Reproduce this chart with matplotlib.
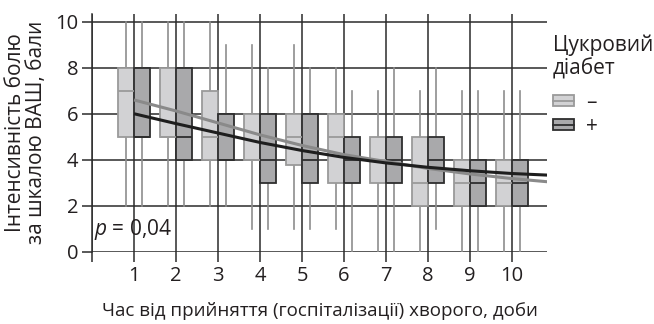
import matplotlib
matplotlib.use("Agg")
import numpy as np
import matplotlib.pyplot as plt
from matplotlib.patches import Patch
from matplotlib.lines import Line2D

plt.rcParams['font.family'] = ['Open Sans', 'DejaVu Sans']
plt.rcParams['mathtext.fontset'] = 'custom'
plt.rcParams['mathtext.it'] = 'Open Sans:italic'
plt.rcParams['mathtext.rm'] = 'Open Sans'

# days after admission
days = np.arange(1, 11)

# diabetes "–" group (box stats)
minus_lo = [2, 2, 2, 1, 1, 1, 0, 0, 0, 0]
minus_q1 = [5, 5, 4, 4, 3.75, 3, 3, 2, 2, 2]
minus_med = [7, 5, 5, 4, 5, 5, 4, 3, 3, 3]
minus_q3 = [8, 8, 7, 6, 6, 6, 5, 5, 4, 4]
minus_hi = [10, 10, 10, 9, 9, 8, 7, 7, 7, 7]

# diabetes "+" group (box stats)
plus_lo = [2, 2, 2, 1, 1, 0, 0, 1, 0, 0]
plus_q1 = [5, 4, 4, 3, 3, 3, 3, 3, 2, 2]
plus_med = [5, 5, 4, 4, 4, 4, 4, 4, 3, 3]
plus_q3 = [8, 8, 6, 6, 6, 5, 5, 5, 4, 4]
plus_hi = [10, 10, 9, 8, 8, 7, 8, 8, 7, 7]

# fitted trend curves
fit_x = [1, 2, 3, 4, 5, 6, 7, 8, 9, 10, 10.85]
fit_minus = [6.6, 6.12, 5.6, 5.08, 4.62, 4.22, 3.92, 3.62, 3.38, 3.18, 3.04]
fit_plus = [6.0, 5.57, 5.16, 4.75, 4.4, 4.1, 3.86, 3.67, 3.52, 3.4, 3.33]

light_face, light_edge = '#d2d2d4', '#9a9a9a'
dark_face, dark_edge = '#a9a9ab', '#2e2e2e'
grid_col = '#2b2b2b'
whisk_col = '#8e8e8e'
txt_col = '#231f20'


def make_stats(lo, q1, med, q3, hi):
    return [dict(whislo=a, q1=b, med=c, q3=d, whishi=e, fliers=[])
            for a, b, c, d, e in zip(lo, q1, med, q3, hi)]


fig = plt.figure(figsize=(6.54, 3.24), dpi=100)
ax = fig.add_axes([92 / 654, (324 - 251.7) / 324, (547 - 92) / 654, (251.7 - 13.7) / 324])

ax.bxp(make_stats(minus_lo, minus_q1, minus_med, minus_q3, minus_hi),
       positions=days - 0.195, widths=0.38, patch_artist=True,
       showcaps=False, showfliers=False, manage_ticks=False,
       boxprops=dict(facecolor=light_face, edgecolor=light_edge, linewidth=1.3, zorder=2),
       whiskerprops=dict(color=whisk_col, linewidth=1.2, zorder=1.5),
       medianprops=dict(color=light_edge, linewidth=1.3, zorder=2.1))
ax.bxp(make_stats(plus_lo, plus_q1, plus_med, plus_q3, plus_hi),
       positions=days + 0.195, widths=0.38, patch_artist=True,
       showcaps=False, showfliers=False, manage_ticks=False,
       boxprops=dict(facecolor=dark_face, edgecolor=dark_edge, linewidth=1.3, zorder=2),
       whiskerprops=dict(color=whisk_col, linewidth=1.2, zorder=1.5),
       medianprops=dict(color=dark_edge, linewidth=1.3, zorder=2.1))

ax.plot(fit_x, fit_minus, color='#8a8a8a', linewidth=2.2, zorder=4, solid_capstyle='butt')
ax.plot(fit_x, fit_plus, color='#1e1e1e', linewidth=2.2, zorder=5, solid_capstyle='butt')

ax.set_xlim(0, 10.83)
ax.set_ylim(0, 10.35)
ax.set_xticks(range(0, 11))
ax.set_xticklabels([''] + [str(d) for d in days])
ax.set_yticks(range(0, 11, 2))
ax.set_axisbelow(True)
ax.grid(True, color=grid_col, linewidth=1.1)
for s in ['top', 'right', 'bottom']:
    ax.spines[s].set_visible(False)
ax.spines['left'].set_color(grid_col)
ax.spines['left'].set_linewidth(1.1)
ax.tick_params(axis='both', direction='out', length=7, width=1.1, color=grid_col,
               labelsize=14.5, labelcolor=txt_col, pad=3)

ax.text(0.04, 0.95, '$p$ = 0,04', fontsize=15, color=txt_col, va='center', ha='left')

ax.set_xlabel('Час від прийняття (госпіталізації) хворого, доби', fontsize=13.5,
              color=txt_col, labelpad=12)
ax.set_ylabel('Інтенсивність болю\nза шкалою ВАШ, бали', fontsize=15,
              color=txt_col, labelpad=6, linespacing=1.0)

handles = [(Patch(facecolor=light_face, edgecolor=light_edge, linewidth=1.3),
            Line2D([], [], color=light_edge, linewidth=1.3)),
           (Patch(facecolor=dark_face, edgecolor=dark_edge, linewidth=1.3),
            Line2D([], [], color=dark_edge, linewidth=1.3))]
leg = ax.legend(handles, ['–', '+'], title='Цукровий\nдіабет', loc='upper left',
                bbox_to_anchor=(553 / 654, 290 / 324), bbox_transform=fig.transFigure,
                frameon=False, fontsize=15, title_fontsize=15, alignment='left',
                handlelength=1.0, handleheight=0.45, handletextpad=0.6,
                labelspacing=0.15, borderpad=0, borderaxespad=0)
leg._legend_box.sep = 9
for t in leg.get_texts():
    t.set_color(txt_col)
leg.get_title().set_color(txt_col)
leg.get_title().set_linespacing(1.15)

fig.savefig('out.png', dpi=100)
